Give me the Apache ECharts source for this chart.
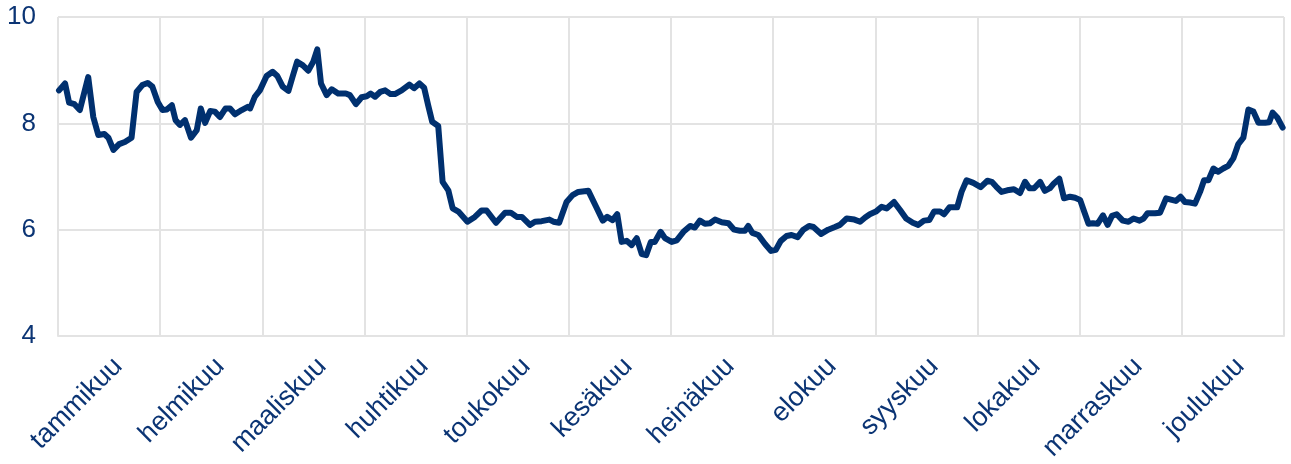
<!DOCTYPE html>
<html>
<head>
<meta charset="utf-8">
<script src="https://cdn.jsdelivr.net/npm/echarts@6/dist/echarts.min.js"></script>
<style>
html,body{margin:0;padding:0;background:#fff;}
#chart{width:1291px;height:464px;}
</style>
</head>
<body>
<div id="chart"></div>
<script>
const months = ['tammikuu','helmikuu','maaliskuu','huhtikuu','toukokuu','kesäkuu','heinäkuu','elokuu','syyskuu','lokakuu','marraskuu','joulukuu'];
const yTicks = [4, 6, 8, 10];
// day of year of each reading
const days = [0.3,2.1,3.3,4.9,6.5,9.0,10.5,12.0,13.8,15.0,16.5,18.2,19.9,21.9,23.4,25.1,26.7,28.1,29.7,31.1,32.4,33.9,35.0,36.3,37.8,39.6,41.3,42.5,43.8,45.3,46.7,48.2,49.9,51.2,52.7,54.7,56.5,57.2,58.6,
60.1,62.1,63.9,65.3,66.9,68.6,69.9,71.2,72.9,74.5,76.0,77.2,78.3,80.0,81.5,83.4,85.7,86.9,88.7,90.4,91.9,93.1,94.4,95.9,97.4,99.0,100.3,102.3,104.6,106.0,107.6,109.0,110.2,111.4,113.2,114.5,116.2,117.5,119.2,121.9,
124.1,126.1,127.6,130.4,133.1,134.8,136.6,138.1,140.5,142.0,144.0,146.3,147.5,149.2,151.4,153.2,154.9,157.9,160.2,162.2,163.5,165.1,166.5,167.8,169.3,170.8,172.3,173.8,175.1,176.5,177.7,179.4,180.7,
182.7,184.2,186.2,188.2,189.6,191.1,192.6,194.1,195.6,197.6,199.6,201.3,203.0,204.5,205.5,206.7,208.5,210.5,212.3,213.7,215.2,216.9,218.4,220.2,221.9,223.6,224.9,227.2,229.3,231.3,232.8,234.8,237.1,238.8,240.3,
241.7,243.5,245.2,246.7,248.9,250.7,252.5,254.5,256.1,257.8,259.4,260.8,262.6,263.8,265.4,267.7,269.0,270.5,272.5,274.7,276.7,278.0,279.3,280.9,282.6,284.6,286.4,287.9,289.2,290.6,292.4,293.8,295.3,296.5,298.1,299.5,301.3,302.8,304.3,
305.5,306.8,308.1,309.5,311.1,312.5,313.8,315.2,317.0,318.7,320.2,322.0,323.2,324.4,326.6,328.1,329.9,331.6,332.8,334.2,335.5,337.0,338.5,340.0,341.2,342.5,344.0,345.4,346.9,348.4,349.9,351.4,352.9,354.4,355.9,357.4,359.4,360.6,361.6,363.0,364.6];
const values = [8.62,8.75,8.39,8.36,8.25,8.87,8.12,7.78,7.80,7.73,7.50,7.61,7.65,7.73,8.59,8.72,8.76,8.69,8.40,8.25,8.26,8.34,8.06,7.97,8.06,7.73,7.87,8.28,8.01,8.23,8.22,8.12,8.28,8.28,8.17,8.25,8.31,8.28,8.50,
8.62,8.89,8.97,8.89,8.69,8.61,8.89,9.16,9.09,8.99,9.16,9.39,8.75,8.53,8.64,8.56,8.56,8.53,8.36,8.49,8.51,8.56,8.50,8.59,8.62,8.55,8.55,8.62,8.73,8.66,8.75,8.67,8.34,8.03,7.95,6.90,6.74,6.40,6.34,6.15,
6.24,6.36,6.36,6.13,6.32,6.32,6.24,6.24,6.09,6.15,6.16,6.19,6.15,6.13,6.52,6.65,6.71,6.73,6.43,6.17,6.24,6.18,6.29,5.77,5.79,5.71,5.84,5.54,5.52,5.77,5.77,5.96,5.84,
5.77,5.80,5.96,6.07,6.04,6.17,6.11,6.12,6.19,6.14,6.12,6.00,5.98,5.98,6.07,5.94,5.90,5.73,5.60,5.62,5.79,5.88,5.90,5.86,6.00,6.07,6.05,5.92,6.00,6.05,6.09,6.21,6.19,6.15,6.23,
6.29,6.34,6.43,6.40,6.52,6.37,6.21,6.13,6.09,6.17,6.18,6.34,6.34,6.29,6.42,6.42,6.71,6.93,6.88,6.80,6.92,6.90,6.81,6.71,6.74,6.76,6.69,6.90,6.78,6.78,6.90,6.73,6.78,6.87,6.96,6.59,6.62,6.60,6.56,
6.34,6.11,6.12,6.11,6.27,6.09,6.26,6.29,6.17,6.15,6.21,6.17,6.21,6.31,6.31,6.32,6.59,6.56,6.54,6.62,6.52,6.51,6.49,6.71,6.93,6.93,7.15,7.09,7.15,7.20,7.34,7.61,7.73,8.26,8.22,8.01,8.01,8.02,8.20,8.11,7.92];

const textColor = '#0B3474';
const lineColor = '#00306F';
const gridColor = '#E3E3E3';
const font = 'Liberation Sans, Arial, sans-serif';

const chart = echarts.init(document.getElementById('chart'), null, {renderer: 'canvas'});
chart.setOption({
  animation: false,
  backgroundColor: '#ffffff',
  grid: [
    {left: 58, right: 7, top: 17, bottom: 128, containLabel: false},
    {left: 67, right: -2, top: 17, bottom: 128, containLabel: false}
  ],
  xAxis: [
    {
      type: 'category',
      gridIndex: 0,
      data: months,
      boundaryGap: true,
      axisLine: {show: true, lineStyle: {color: gridColor, width: 2}},
      axisTick: {show: false},
      splitLine: {show: true, lineStyle: {color: gridColor, width: 2}},
      axisLabel: {show: false}
    },
    {
      type: 'value',
      gridIndex: 0,
      min: 0,
      max: 365,
      show: false
    },
    {
      type: 'category',
      gridIndex: 1,
      data: months,
      boundaryGap: true,
      axisLine: {show: false},
      axisTick: {show: false},
      splitLine: {show: false},
      axisLabel: {
        interval: 0,
        rotate: 45,
        margin: 26,
        color: textColor,
        fontFamily: font,
        fontSize: 27
      }
    }
  ],
  yAxis: [
    {
      type: 'value',
      gridIndex: 0,
      min: yTicks[0],
      max: yTicks[yTicks.length - 1],
      interval: 2,
      axisLine: {show: false},
      axisTick: {show: false},
      splitLine: {show: true, lineStyle: {color: gridColor, width: 2}},
      axisLabel: {
        margin: 22,
        color: textColor,
        fontFamily: font,
        fontSize: 26
      }
    },
    {
      type: 'value',
      gridIndex: 1,
      min: yTicks[0],
      max: yTicks[yTicks.length - 1],
      show: false
    }
  ],
  series: [{
    type: 'line',
    xAxisIndex: 1,
    yAxisIndex: 0,
    data: days.map((d, i) => [d, values[i]]),
    showSymbol: false,
    symbol: 'none',
    lineStyle: {color: lineColor, width: 6, join: 'round', cap: 'round'},
    silent: true
  }]
});
</script>
</body>
</html>
